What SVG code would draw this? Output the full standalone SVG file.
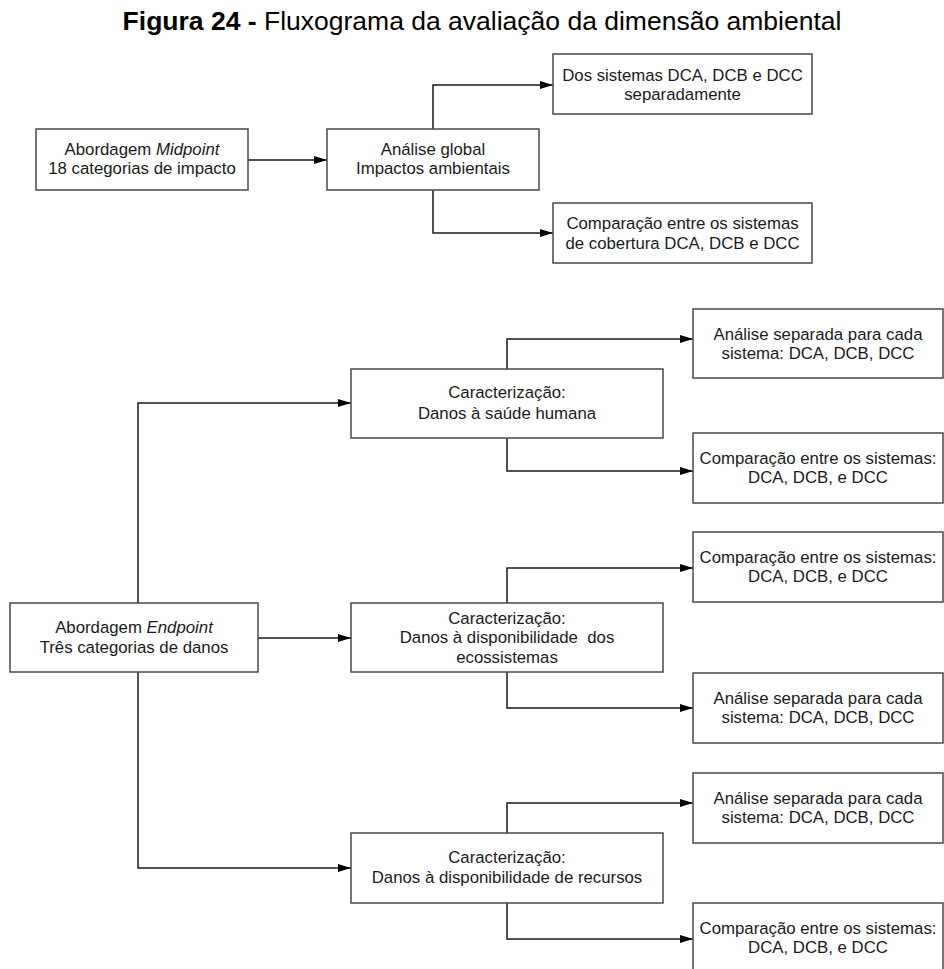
<svg xmlns="http://www.w3.org/2000/svg" width="944" height="969" viewBox="0 0 944 969">
  <style>
    .box { fill: #ffffff; stroke: #4a4a4a; stroke-width: 1.5; }
    .lbl { font-family: "Liberation Sans", Arial, sans-serif; font-size: 16.8px; fill: #1a1a1a; text-anchor: middle; }
    .title { font-family: "Liberation Sans", Arial, sans-serif; font-size: 26.5px; fill: #000000; text-anchor: middle; }
    .wire { fill: none; stroke: #1a1a1a; stroke-width: 1.5; marker-end: url(#arrow); }
  </style>
  <defs>
    <marker id="arrow" viewBox="0 0 13 10" refX="13" refY="5" markerWidth="13" markerHeight="10" markerUnits="userSpaceOnUse" orient="auto">
      <path d="M0,1 L13,5 L0,9 Z" fill="#000000"/>
    </marker>
  </defs>

  <rect width="944" height="969" fill="#ffffff"/>

  <text class="title" x="482" y="30"><tspan font-weight="bold">Figura 24 -</tspan> Fluxograma da avaliação da dimensão ambiental</text>

  <!-- connectors -->
  <g id="connectors">
    <path class="wire" d="M248,160 L327,160"/>
    <path class="wire" d="M433,129 L433,85 L553,85"/>
    <path class="wire" d="M433,190 L433,233 L553,233"/>

    <path class="wire" d="M138,603 L138,403 L351,403"/>
    <path class="wire" d="M258,638 L351,638"/>
    <path class="wire" d="M138,672 L138,868 L351,868"/>

    <path class="wire" d="M507,369 L507,339 L693,339"/>
    <path class="wire" d="M507,438 L507,471 L693,471"/>
    <path class="wire" d="M507,603 L507,568 L693,568"/>
    <path class="wire" d="M507,672 L507,708 L693,708"/>
    <path class="wire" d="M507,833 L507,803 L693,803"/>
    <path class="wire" d="M507,903 L507,939 L693,939"/>
  </g>

  <!-- midpoint branch -->
  <g id="midpoint">
    <rect class="box" x="36" y="129" width="212" height="61"/>
    <text class="lbl" x="142" y="155">Abordagem <tspan font-style="italic">Midpoint</tspan></text>
    <text class="lbl" x="142" y="174">18 categorias de impacto</text>
  </g>
  <g id="analise-global">
    <rect class="box" x="327" y="129" width="212" height="61"/>
    <text class="lbl" x="433" y="155">Análise global</text>
    <text class="lbl" x="433" y="174">Impactos ambientais</text>
  </g>
  <g id="sistemas-separados">
    <rect class="box" x="553" y="54" width="259" height="60"/>
    <text class="lbl" x="682.5" y="81">Dos sistemas DCA, DCB e DCC</text>
    <text class="lbl" x="682.5" y="100">separadamente</text>
  </g>
  <g id="comparacao-cobertura">
    <rect class="box" x="553" y="203" width="259" height="60"/>
    <text class="lbl" x="682.5" y="229">Comparação entre os sistemas</text>
    <text class="lbl" x="682.5" y="249">de cobertura DCA, DCB e DCC</text>
  </g>

  <!-- endpoint branch -->
  <g id="endpoint">
    <rect class="box" x="10" y="603" width="248" height="69"/>
    <text class="lbl" x="134" y="633">Abordagem <tspan font-style="italic">Endpoint</tspan></text>
    <text class="lbl" x="134" y="653">Três categorias de danos</text>
  </g>

  <g id="saude-humana">
    <rect class="box" x="351" y="369" width="312" height="69"/>
    <text class="lbl" x="507" y="398">Caracterização:</text>
    <text class="lbl" x="507" y="419">Danos à saúde humana</text>
  </g>
  <g id="ecossistemas">
    <rect class="box" x="351" y="603" width="312" height="69"/>
    <text class="lbl" x="507" y="624">Caracterização:</text>
    <text class="lbl" x="507" y="643" xml:space="preserve">Danos à disponibilidade  dos</text>
    <text class="lbl" x="507" y="663">ecossistemas</text>
  </g>
  <g id="recursos">
    <rect class="box" x="351" y="833" width="312" height="70"/>
    <text class="lbl" x="507" y="863">Caracterização:</text>
    <text class="lbl" x="507" y="883">Danos à disponibilidade de recursos</text>
  </g>

  <g id="saude-separada">
    <rect class="box" x="693" y="309" width="250" height="69"/>
    <text class="lbl" x="818" y="340">Análise separada para cada</text>
    <text class="lbl" x="818" y="359">sistema: DCA, DCB, DCC</text>
  </g>
  <g id="saude-comparacao">
    <rect class="box" x="693" y="433" width="250" height="70"/>
    <text class="lbl" x="818" y="464">Comparação entre os sistemas:</text>
    <text class="lbl" x="818" y="483">DCA, DCB, e DCC</text>
  </g>
  <g id="ecossistemas-comparacao">
    <rect class="box" x="693" y="532" width="250" height="70"/>
    <text class="lbl" x="818" y="563">Comparação entre os sistemas:</text>
    <text class="lbl" x="818" y="582">DCA, DCB, e DCC</text>
  </g>
  <g id="ecossistemas-separada">
    <rect class="box" x="693" y="673" width="250" height="70"/>
    <text class="lbl" x="818" y="704">Análise separada para cada</text>
    <text class="lbl" x="818" y="723">sistema: DCA, DCB, DCC</text>
  </g>
  <g id="recursos-separada">
    <rect class="box" x="693" y="773" width="250" height="70"/>
    <text class="lbl" x="818" y="804">Análise separada para cada</text>
    <text class="lbl" x="818" y="823">sistema: DCA, DCB, DCC</text>
  </g>
  <g id="recursos-comparacao">
    <rect class="box" x="693" y="903" width="250" height="80"/>
    <text class="lbl" x="818" y="934">Comparação entre os sistemas:</text>
    <text class="lbl" x="818" y="953">DCA, DCB, e DCC</text>
  </g>
</svg>
